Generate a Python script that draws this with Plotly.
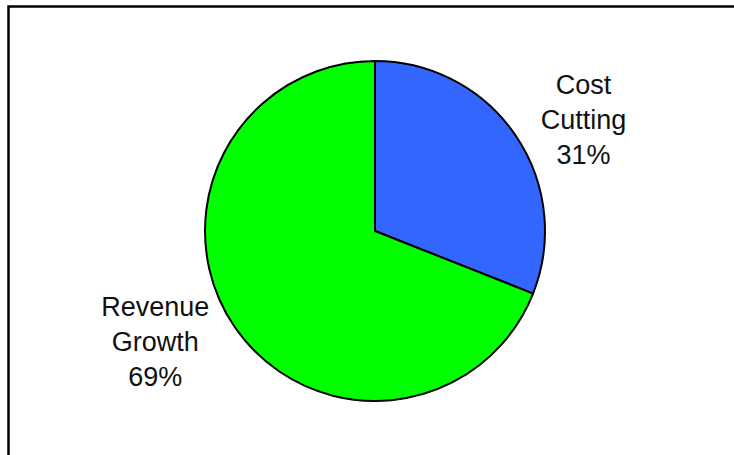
import plotly.graph_objects as go

categories = ["Cost Cutting", "Revenue Growth"]
display_labels = ["Cost<br>Cutting", "Revenue<br>Growth"]
values = [31, 69]
colors = ["#3366FF", "#00FF00"]

W, H = 734, 455
cx, cy, r = 375, 231, 170

fig = go.Figure(go.Pie(
    labels=categories,
    values=values,
    text=display_labels,
    texttemplate="%{text}<br>%{percent:.0%}",
    textposition="outside",
    sort=False,
    direction="clockwise",
    rotation=0,
    marker=dict(colors=colors, line=dict(color="black", width=2)),
    textfont=dict(family="Arial, Liberation Sans, sans-serif", size=27, color="#111111"),
    showlegend=False,
    hoverinfo="label+percent",
    domain=dict(x=[(cx - r) / W, (cx + r) / W], y=[1 - (cy + r) / H, 1 - (cy - r) / H]),
))

fig.update_layout(
    width=W, height=H,
    margin=dict(l=0, r=0, t=0, b=0),
    paper_bgcolor="white",
    plot_bgcolor="white",
    shapes=[dict(type="rect", xref="paper", yref="paper",
                 x0=8.5 / W, x1=1.05, y0=-0.05, y1=1 - 6.5 / H,
                 line=dict(color="black", width=2.5), fillcolor="rgba(0,0,0,0)")],
)

fig.write_html(
    "out.html",
    config={"displayModeBar": False},
    post_script="document.body.style.margin='0';document.body.style.overflow='hidden';",
)
